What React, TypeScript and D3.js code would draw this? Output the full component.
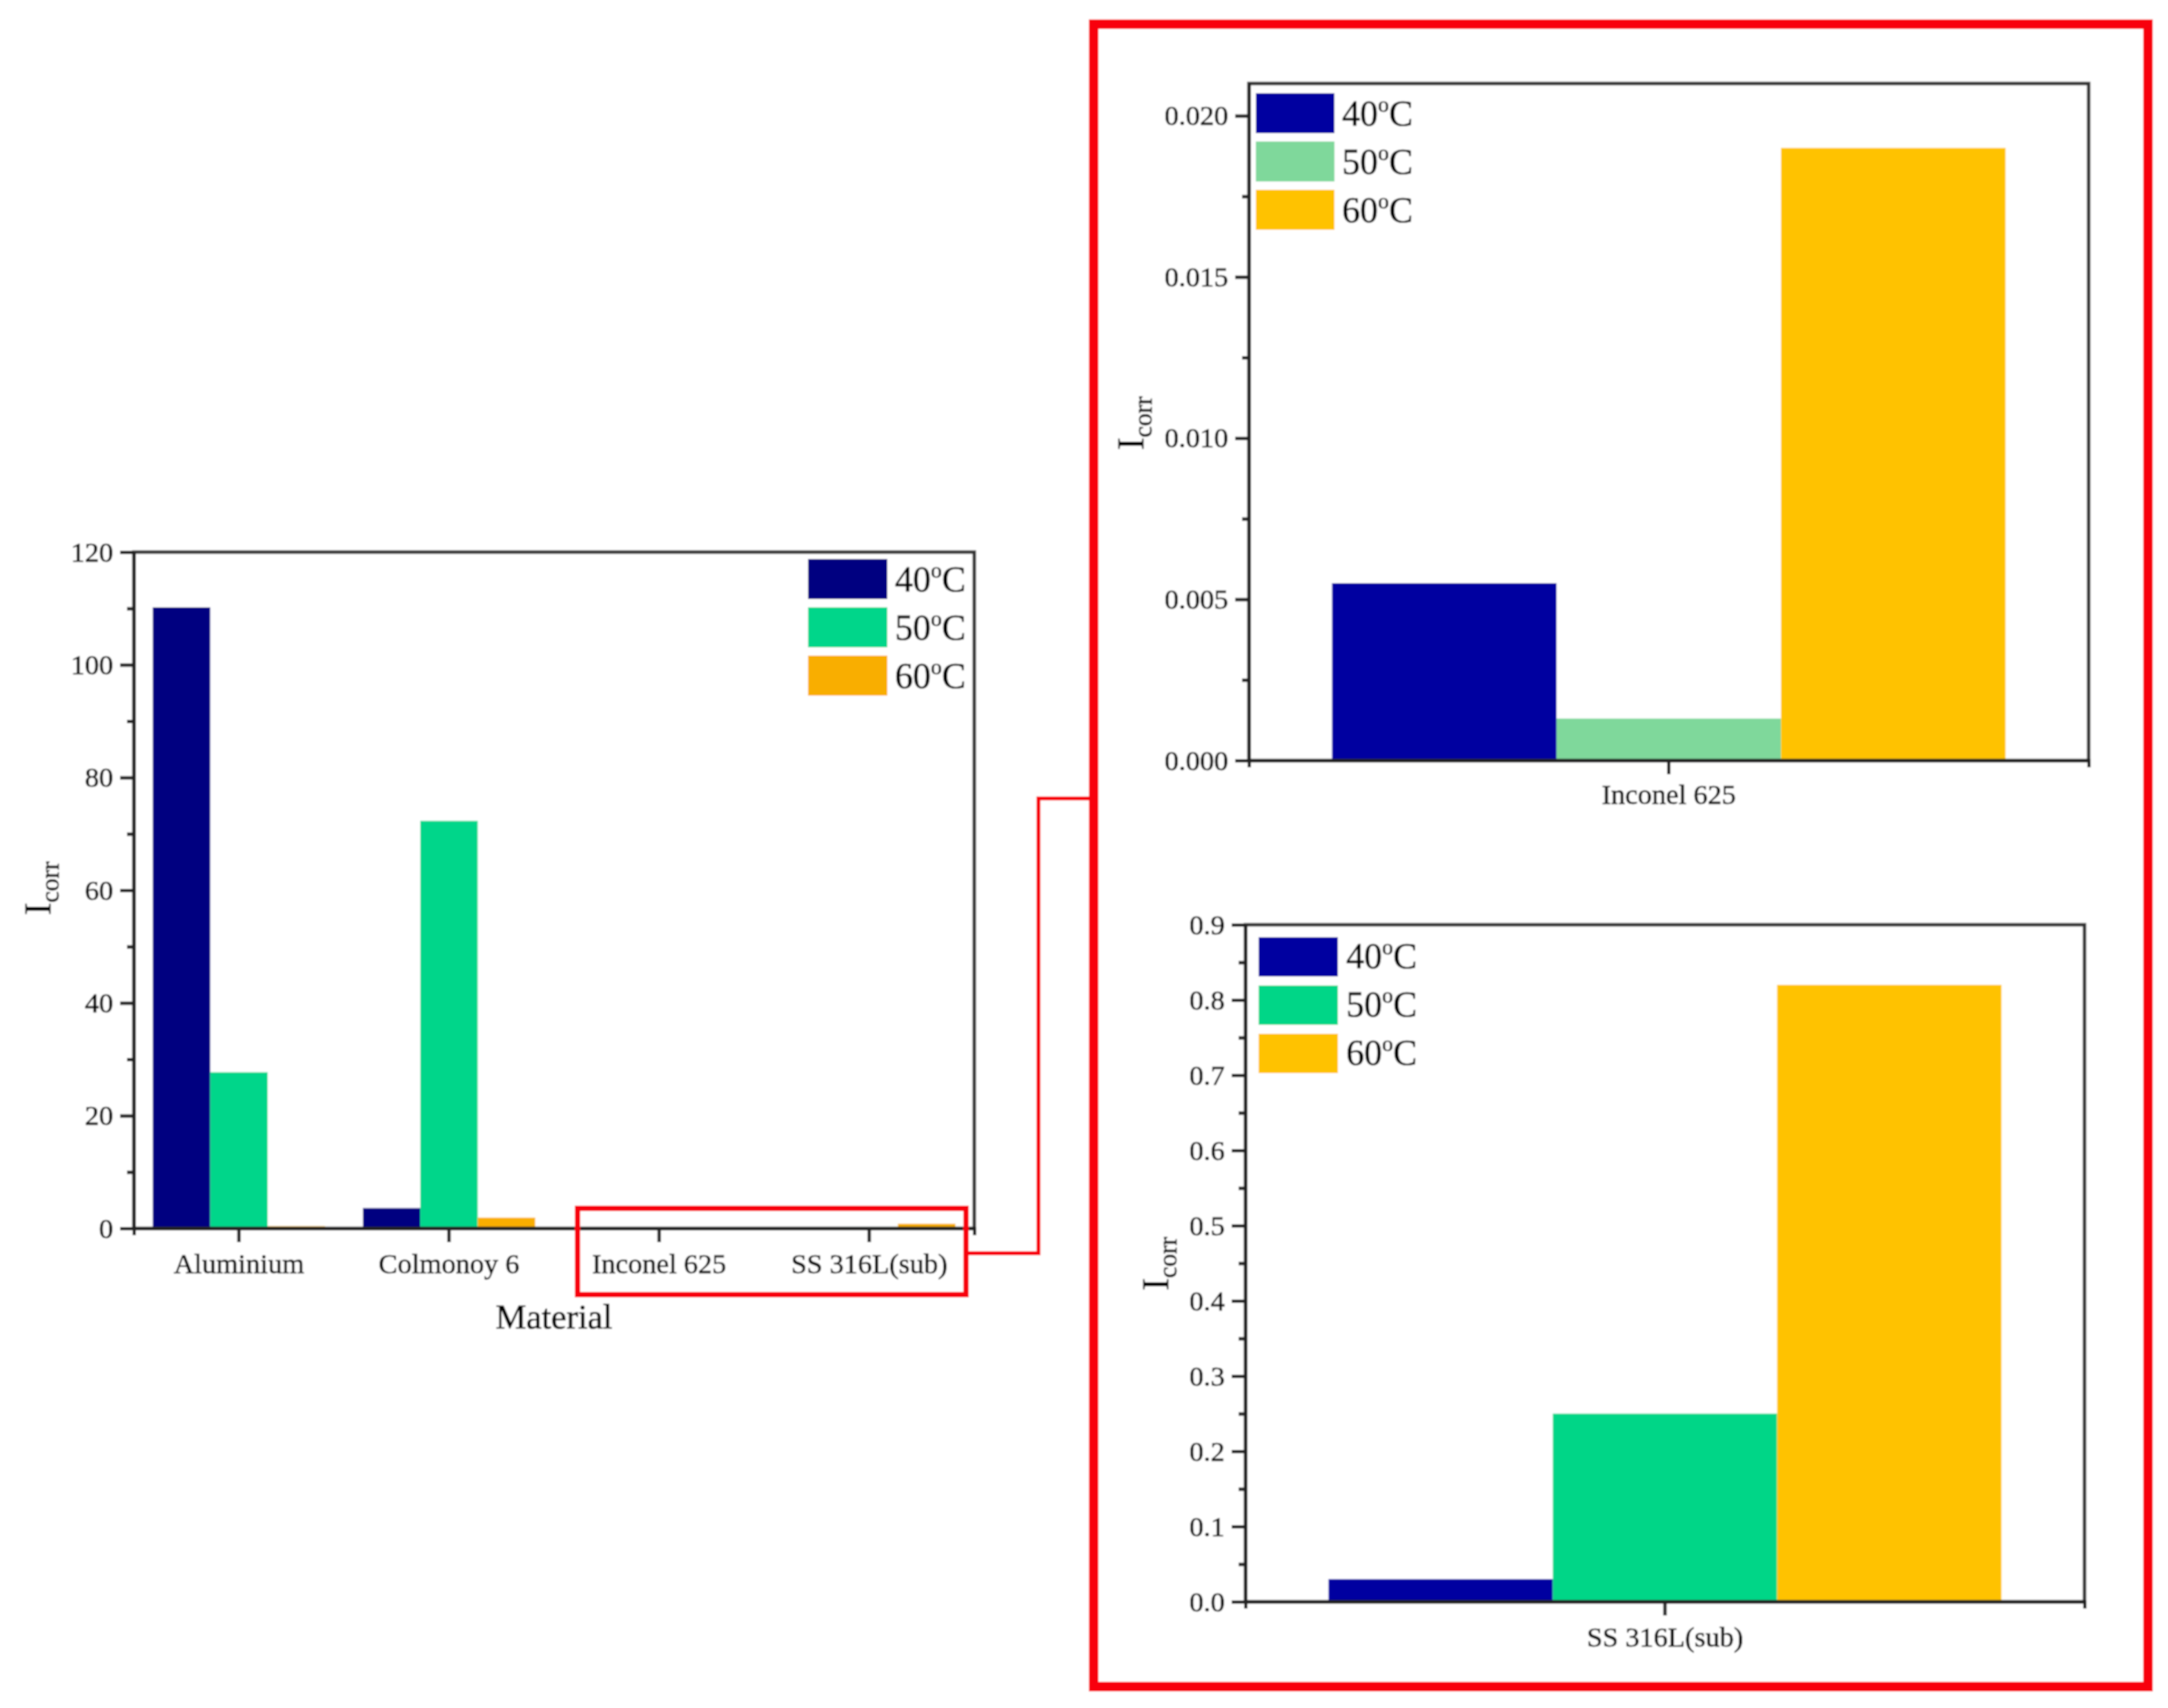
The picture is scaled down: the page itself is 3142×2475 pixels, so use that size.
import { useEffect, useRef } from "react";
import * as d3 from "d3";

const WIDTH = 3142;
const HEIGHT = 2475;
const FONT = '"Liberation Serif", "Times New Roman", serif';
const INK = "#000";
const RED = "#F80008";

const seriesNames = ["40", "50", "60"];

const allMaterials = ["Aluminium", "Colmonoy 6", "Inconel 625", "SS 316L(sub)"];
const allValues40 = [110.2, 3.6, 0.0055, 0.03];
const allValues50 = [27.7, 72.3, 0.0013, 0.25];
const allValues60 = [0.4, 1.9, 0.019, 0.82];
const allTicks = [0, 20, 40, 60, 80, 100, 120];
const allMinor = [10, 30, 50, 70, 90, 110];

const inconelMaterials = ["Inconel 625"];
const inconelValues = [[0.0055], [0.0013], [0.019]];
const inconelTicks = [0, 0.005, 0.01, 0.015, 0.02];
const inconelMinor = [0.0025, 0.0075, 0.0125, 0.0175];

const ssMaterials = ["SS 316L(sub)"];
const ssValues = [[0.03], [0.25], [0.82]];
const ssTicks = [0, 0.1, 0.2, 0.3, 0.4, 0.5, 0.6, 0.7, 0.8, 0.9];
const ssMinor = [0.05, 0.15, 0.25, 0.35, 0.45, 0.55, 0.65, 0.75, 0.85];

type Sel = d3.Selection<SVGGElement, unknown, null, undefined>;

interface PanelConfig {
  box: { left: number; right: number; top: number; bottom: number };
  categories: string[];
  values: number[][];
  yMax: number;
  ticks: number[];
  minor: number[];
  format: string;
  colors: string[];
  padInner: number;
  padOuter: number;
  fontSize: number;
  xLabelY: number;
  yTitle: { x: number; y: number };
  legend: { x: number; w: number; h: number; tops: number[]; textX: number; baselines: number[] };
}

// the source is an upscaled bitmap, so its glyphs look heavier than plain serif
function ink<T extends d3.BaseType>(s: d3.Selection<T, any, any, any>) {
  return s.attr("fill", INK).attr("stroke", INK).attr("stroke-width", 0.7);
}

function drawCorr(g: Sel, x: number, y: number) {
  const t = g
    .append("text")
    .attr("transform", `translate(${x},${y}) rotate(-90)`)
    .attr("font-size", 54);
  ink(t);
  t.append("tspan").text("I");
  t.append("tspan").attr("dy", 12).attr("font-size", 37).text("corr");
}

function drawPanel(root: Sel, c: PanelConfig) {
  const g = root.append("g");
  const { left, right, top, bottom } = c.box;

  const x = d3.scaleBand<string>().domain(c.categories).range([left, right]).paddingInner(c.padInner).paddingOuter(c.padOuter);
  const inner = d3.scaleBand<string>().domain(seriesNames).range([0, x.bandwidth()]);
  const y = d3.scaleLinear().domain([0, c.yMax]).range([bottom, top]);

  c.values.forEach((row, s) => {
    g.append("g")
      .attr("fill", c.colors[s])
      .selectAll("rect")
      .data(row)
      .join("rect")
      .attr("x", (_d, i) => x(c.categories[i])! + inner(seriesNames[s])!)
      .attr("y", (d) => y(d))
      .attr("width", inner.bandwidth())
      .attr("height", (d) => y(0) - y(d));
  });

  g.append("rect")
    .attr("x", left)
    .attr("y", top)
    .attr("width", right - left)
    .attr("height", bottom - top)
    .attr("fill", "none")
    .attr("stroke", "#333")
    .attr("stroke-width", 5);

  const yAxis = g
    .append("g")
    .attr("transform", `translate(${left},0)`)
    .call(d3.axisLeft(y).tickValues(c.ticks).tickFormat(d3.format(c.format) as any).tickSize(20).tickSizeOuter(0).tickPadding(10));
  const yMinor = g
    .append("g")
    .attr("transform", `translate(${left},0)`)
    .call(d3.axisLeft(y).tickValues(c.minor).tickFormat(() => "").tickSize(10).tickSizeOuter(0));
  const xAxis = g
    .append("g")
    .attr("transform", `translate(0,${bottom})`)
    .call(d3.axisBottom(x).tickSize(20).tickSizeOuter(10).tickFormat(() => ""));

  [yAxis, yMinor, xAxis].forEach((a) => {
    a.selectAll("path,line").attr("stroke", "#222").attr("stroke-width", 5);
    ink(a.selectAll("text").attr("font-family", FONT).attr("font-size", c.fontSize));
  });

  ink(
    g
      .append("g")
      .selectAll("text")
      .data(c.categories)
      .join("text")
      .attr("x", (d) => x(d)! + x.bandwidth() / 2)
      .attr("y", c.xLabelY)
      .attr("text-anchor", "middle")
      .attr("font-size", c.fontSize)
      .text((d) => d)
  );

  drawCorr(g, c.yTitle.x, c.yTitle.y);

  const lg = c.legend;
  seriesNames.forEach((name, s) => {
    g.append("rect")
      .attr("x", lg.x)
      .attr("y", lg.tops[s])
      .attr("width", lg.w)
      .attr("height", lg.h)
      .attr("fill", c.colors[s]);
    const t = g
      .append("text")
      .attr("x", lg.textX)
      .attr("y", lg.baselines[s])
      .attr("font-size", 52);
    ink(t);
    t.append("tspan").text(name);
    t.append("tspan").attr("dy", -20).attr("font-size", 32).text("o");
    t.append("tspan").attr("dy", 20).text("C");
  });
}

export default function App() {
  const ref = useRef<SVGSVGElement>(null);

  useEffect(() => {
    if (!ref.current) return;
    const svg = d3.select(ref.current);
    svg.selectAll("*").remove();

    svg
      .append("defs")
      .append("filter")
      .attr("id", "soft")
      .attr("filterUnits", "userSpaceOnUse")
      .attr("x", 0)
      .attr("y", 0)
      .attr("width", WIDTH)
      .attr("height", HEIGHT)
      .append("feGaussianBlur")
      .attr("stdDeviation", 1);

    const root = svg
      .append("g")
      .attr("font-family", FONT)
      .attr("filter", "url(#soft)") as unknown as Sel;

    root.append("rect").attr("width", WIDTH).attr("height", HEIGHT).attr("fill", "#fff");

    drawPanel(root, {
      box: { left: 194, right: 1412, top: 800, bottom: 1780 },
      categories: allMaterials,
      values: [allValues40, allValues50, allValues60],
      yMax: 120,
      ticks: allTicks,
      minor: allMinor,
      format: "d",
      colors: ["#000080", "#00D68A", "#F9AE00"],
      padInner: 0.18,
      padOuter: 0.09,
      fontSize: 41,
      xLabelY: 1845,
      yTitle: { x: 73, y: 1326 },
      legend: { x: 1171, w: 115, h: 58, tops: [810, 880, 950], textX: 1297, baselines: [857, 927, 997] },
    });

    drawPanel(root, {
      box: { left: 1810, right: 3027, top: 121, bottom: 1102 },
      categories: inconelMaterials,
      values: inconelValues,
      yMax: 0.021,
      ticks: inconelTicks,
      minor: inconelMinor,
      format: ".3f",
      colors: ["#0000A0", "#7FD89B", "#FFC200"],
      padInner: 0.198,
      padOuter: 0.099,
      fontSize: 41,
      xLabelY: 1165,
      yTitle: { x: 1657, y: 652 },
      legend: { x: 1820, w: 114, h: 58, tops: [135, 205, 275], textX: 1945, baselines: [182, 252, 322] },
    });

    drawPanel(root, {
      box: { left: 1805, right: 3021, top: 1340, bottom: 2321 },
      categories: ssMaterials,
      values: ssValues,
      yMax: 0.9,
      ticks: ssTicks,
      minor: ssMinor,
      format: ".1f",
      colors: ["#0000A0", "#00D687", "#FFC200"],
      padInner: 0.198,
      padOuter: 0.099,
      fontSize: 41,
      xLabelY: 2386,
      yTitle: { x: 1693, y: 1870 },
      legend: { x: 1824, w: 115, h: 57, tops: [1358, 1428, 1498], textX: 1951, baselines: [1403, 1473, 1543] },
    });

    // material title of the left chart
    ink(
      root
        .append("text")
        .attr("x", 803)
        .attr("y", 1925)
        .attr("text-anchor", "middle")
        .attr("font-size", 50)
        .text("Material")
    );

    // red zoom frames and the connector between them
    root
      .append("rect")
      .attr("x", 837)
      .attr("y", 1751)
      .attr("width", 563)
      .attr("height", 125)
      .attr("fill", "none")
      .attr("stroke", RED)
      .attr("stroke-width", 8);
    root
      .append("path")
      .attr("d", d3.line()([[1400, 1816], [1505, 1816], [1505, 1157], [1582, 1157]]))
      .attr("fill", "none")
      .attr("stroke", RED)
      .attr("stroke-width", 6);
    root
      .append("rect")
      .attr("x", 1585)
      .attr("y", 35)
      .attr("width", 1528)
      .attr("height", 2409)
      .attr("fill", "none")
      .attr("stroke", RED)
      .attr("stroke-width", 14);
  }, []);

  return <svg ref={ref} width={WIDTH} height={HEIGHT} style={{ position: "absolute", left: 0, top: 0, display: "block" }} />;
}
